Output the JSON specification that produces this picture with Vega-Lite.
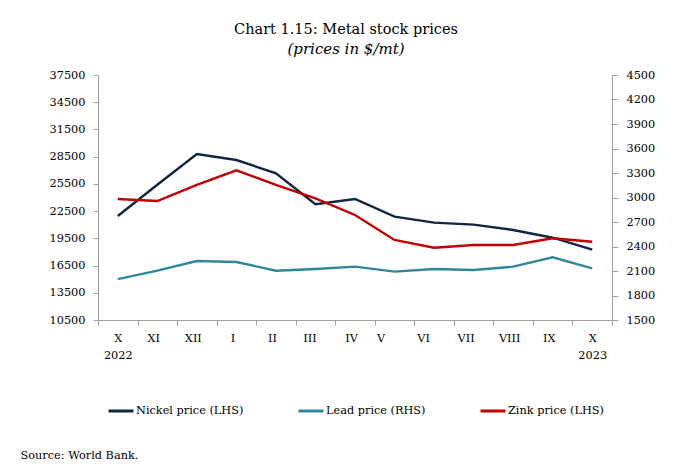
{
  "$schema": "https://vega.github.io/schema/vega-lite/v6.json",
  "width": 514,
  "height": 245,
  "autosize": "none",
  "padding": {"left": 98, "top": 75, "right": 69, "bottom": 151},
  "background": "white",
  "config": {
    "view": {"stroke": null},
    "font": "DejaVu Serif",
    "axis": {"grid": false, "domainColor": "#a0a0a0", "tickColor": "#a0a0a0", "labelFont": "DejaVu Serif", "labelFontSize": 11.3, "labelColor": "#000000", "titleFont": "DejaVu Serif"}
  },
  "title": {
    "text": "Chart 1.15: Metal stock prices",
    "subtitle": "(prices in $/mt)",
    "anchor": "middle",
    "frame": "group",
    "dx": -9,
    "offset": 11,
    "font": "DejaVu Serif",
    "fontSize": 14.5,
    "fontWeight": "normal",
    "color": "#000000",
    "subtitleFont": "DejaVu Serif",
    "subtitleFontSize": 15,
    "subtitleFontStyle": "italic",
    "subtitleColor": "#000000",
    "subtitlePadding": 5
  },
  "data": {
    "values": [
      {"m": "X 2022", "s": "Nickel price (LHS)", "v": 21960},
      {"m": "XI", "s": "Nickel price (LHS)", "v": 25400},
      {"m": "XII", "s": "Nickel price (LHS)", "v": 28800},
      {"m": "I", "s": "Nickel price (LHS)", "v": 28130},
      {"m": "II", "s": "Nickel price (LHS)", "v": 26670},
      {"m": "III", "s": "Nickel price (LHS)", "v": 23250},
      {"m": "IV", "s": "Nickel price (LHS)", "v": 23840},
      {"m": "V", "s": "Nickel price (LHS)", "v": 21890},
      {"m": "VI", "s": "Nickel price (LHS)", "v": 21230},
      {"m": "VII", "s": "Nickel price (LHS)", "v": 21010},
      {"m": "VIII", "s": "Nickel price (LHS)", "v": 20420},
      {"m": "IX", "s": "Nickel price (LHS)", "v": 19570},
      {"m": "X 2023", "s": "Nickel price (LHS)", "v": 18250},
      {"m": "X 2022", "s": "Zink price (LHS)", "v": 23840},
      {"m": "XI", "s": "Zink price (LHS)", "v": 23610},
      {"m": "XII", "s": "Zink price (LHS)", "v": 25380},
      {"m": "I", "s": "Zink price (LHS)", "v": 27000},
      {"m": "II", "s": "Zink price (LHS)", "v": 25380},
      {"m": "III", "s": "Zink price (LHS)", "v": 23910},
      {"m": "IV", "s": "Zink price (LHS)", "v": 22070},
      {"m": "V", "s": "Zink price (LHS)", "v": 19320},
      {"m": "VI", "s": "Zink price (LHS)", "v": 18470},
      {"m": "VII", "s": "Zink price (LHS)", "v": 18770},
      {"m": "VIII", "s": "Zink price (LHS)", "v": 18770},
      {"m": "IX", "s": "Zink price (LHS)", "v": 19500},
      {"m": "X 2023", "s": "Zink price (LHS)", "v": 19130},
      {"m": "X 2022", "s": "Lead price (RHS)", "v": 2000},
      {"m": "XI", "s": "Lead price (RHS)", "v": 2104},
      {"m": "XII", "s": "Lead price (RHS)", "v": 2222},
      {"m": "I", "s": "Lead price (RHS)", "v": 2210},
      {"m": "II", "s": "Lead price (RHS)", "v": 2104},
      {"m": "III", "s": "Lead price (RHS)", "v": 2124},
      {"m": "IV", "s": "Lead price (RHS)", "v": 2153},
      {"m": "V", "s": "Lead price (RHS)", "v": 2092},
      {"m": "VI", "s": "Lead price (RHS)", "v": 2124},
      {"m": "VII", "s": "Lead price (RHS)", "v": 2112},
      {"m": "VIII", "s": "Lead price (RHS)", "v": 2153},
      {"m": "IX", "s": "Lead price (RHS)", "v": 2268},
      {"m": "X 2023", "s": "Lead price (RHS)", "v": 2133}
    ]
  },
  "encoding": {
    "x": {
      "field": "m",
      "type": "ordinal",
      "sort": ["X 2022", "XI", "XII", "I", "II", "III", "IV", "V", "VI", "VII", "VIII", "IX", "X 2023"],
      "scale": {"type": "band", "paddingInner": 0, "paddingOuter": 0},
      "axis": {
        "title": "Source: World Bank.",
        "titleX": -78,
        "titleY": 138,
        "titleAlign": "left",
        "titleBaseline": "alphabetic",
        "titleFontSize": 11.3,
        "titleFontWeight": "normal",
        "titleColor": "#000000",
        "labelAngle": 0,
        "tickBand": "extent",
        "tickSize": 5,
        "labelPadding": 7,
        "labelLineHeight": 17,
        "labelBaseline": "top",
        "labelExpr": "datum.value == 'X 2022' ? ['X', '2022'] : datum.value == 'X 2023' ? ['X', '2023'] : datum.value",
        "labelOffset": {
          "condition": [
            {"test": "datum.value == 'V'", "value": -14},
            {"test": "datum.value == 'VI'", "value": -11},
            {"test": "datum.value == 'VII'", "value": -8},
            {"test": "datum.value == 'III'", "value": -6},
            {"test": "datum.value == 'X 2022' || datum.value == 'X 2023'", "value": 0}
          ],
          "value": -4
        }
      }
    },
    "color": {
      "field": "s",
      "type": "nominal",
      "scale": {
        "domain": ["Nickel price (LHS)", "Lead price (RHS)", "Zink price (LHS)"],
        "range": ["#12263F", "#31859C", "#C00000"]
      },
      "legend": {
        "title": null,
        "orient": "none",
        "direction": "horizontal",
        "legendX": 9,
        "legendY": 322,
        "padding": 0,
        "symbolType": "stroke",
        "symbolSize": 625,
        "symbolStrokeWidth": 3,
        "labelFont": "DejaVu Serif",
        "labelFontSize": 11.3,
        "labelColor": "#000000",
        "labelOffset": 1,
        "columnPadding": 48
      }
    }
  },
  "layer": [
    {
      "transform": [{"filter": "datum.s != 'Lead price (RHS)'"}],
      "mark": {"type": "line", "strokeWidth": 2.4},
      "encoding": {
        "y": {
          "field": "v",
          "type": "quantitative",
          "scale": {"domain": [10500, 37500], "nice": false, "zero": false},
          "axis": {
            "title": null,
            "orient": "left",
            "values": [10500, 13500, 16500, 19500, 22500, 25500, 28500, 31500, 34500, 37500],
            "format": "d",
            "tickSize": 5,
            "labelPadding": 8
          }
        }
      }
    },
    {
      "transform": [{"filter": "datum.s == 'Lead price (RHS)'"}],
      "mark": {"type": "line", "strokeWidth": 2.4},
      "encoding": {
        "y": {
          "field": "v",
          "type": "quantitative",
          "scale": {"domain": [1500, 4500], "nice": false, "zero": false},
          "axis": {
            "title": null,
            "orient": "right",
            "values": [1500, 1800, 2100, 2400, 2700, 3000, 3300, 3600, 3900, 4200, 4500],
            "format": "d",
            "tickSize": 6,
            "labelPadding": 8
          }
        }
      }
    }
  ],
  "resolve": {"scale": {"y": "independent"}}
}
